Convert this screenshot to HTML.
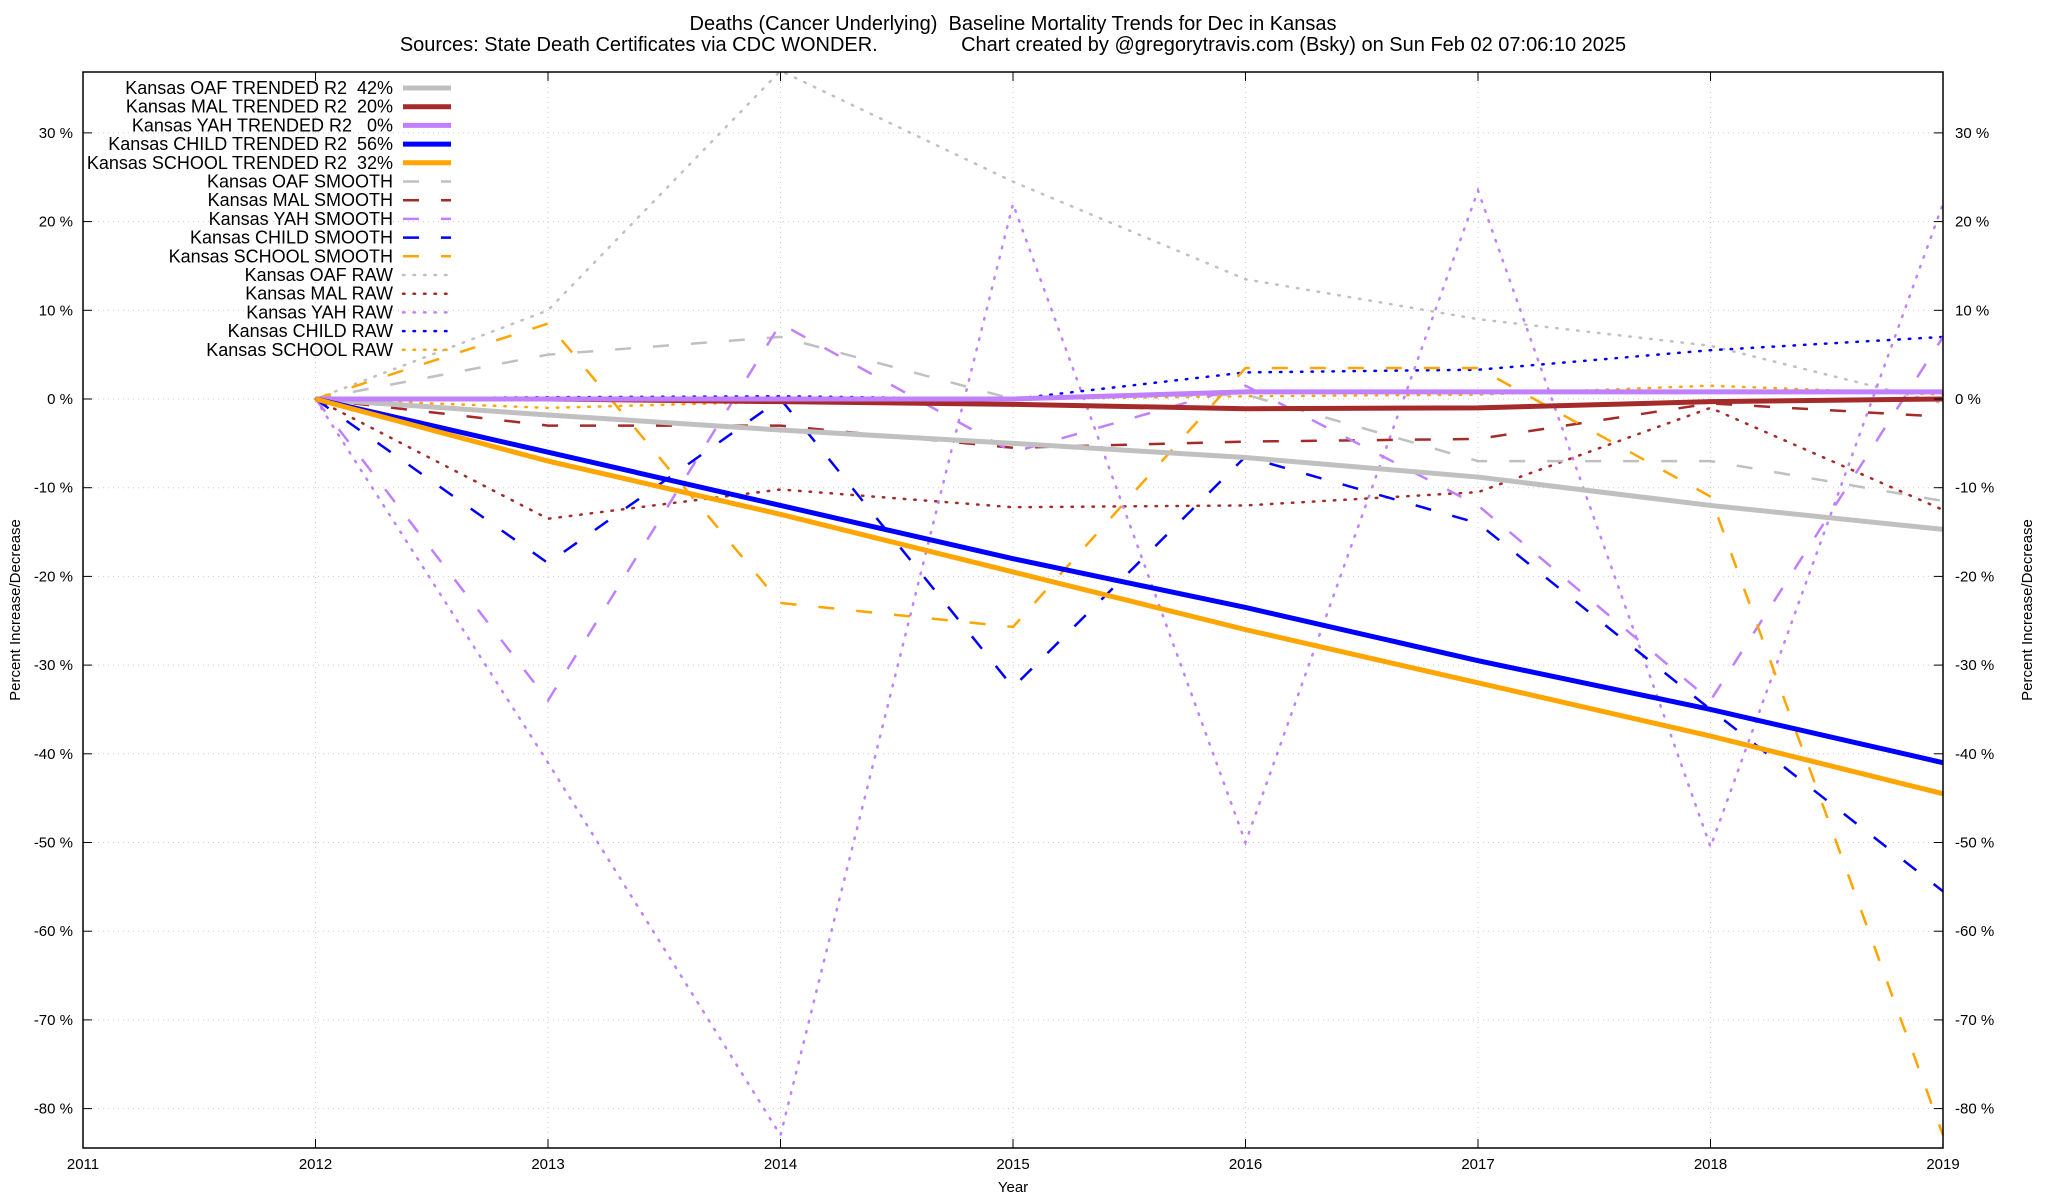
<!DOCTYPE html>
<html><head><meta charset="utf-8"><style>
body{margin:0;background:#fff;}
svg{display:block;font-family:"Liberation Sans",sans-serif;}
.pre{white-space:pre;}
</style></head><body>
<svg id="chart" width="2048" height="1200" viewBox="0 0 2048 1200" xmlns="http://www.w3.org/2000/svg">
<text class="pre" x="1013" y="30" font-size="20" text-anchor="middle">Deaths (Cancer Underlying)  Baseline Mortality Trends for Dec in Kansas</text>
<text class="pre" x="1013" y="51" font-size="20" text-anchor="middle">Sources: State Death Certificates via CDC WONDER.               Chart created by @gregorytravis.com (Bsky) on Sun Feb 02 07:06:10 2025</text>
<g id="grid"></g><g id="series"></g><g id="axes"></g><g id="legend"></g>
<text x="1013" y="1192" font-size="15" text-anchor="middle">Year</text>
<text transform="translate(20,610) rotate(-90)" font-size="15" text-anchor="middle">Percent Increase/Decrease</text>
<text transform="translate(2032,610) rotate(-90)" font-size="15" text-anchor="middle">Percent Increase/Decrease</text>
</svg>
<script>
const years=[2012,2013,2014,2015,2016,2017,2018,2019];
const xTicks=[2011,2012,2013,2014,2015,2016,2017,2018,2019];
const yTicks=[-80,-70,-60,-50,-40,-30,-20,-10,0,10,20,30];
const oafTrend=[0,-1.8,-3.5,-5.0,-6.6,-8.8,-12,-14.7];
const malTrend=[0,0,-0.3,-0.6,-1.1,-1.0,-0.3,0];
const yahTrend=[0,0,0,0,0.8,0.8,0.8,0.8];
const childTrend=[0,-6,-12,-18,-23.5,-29.5,-35,-41];
const schoolTrend=[0,-7,-13,-19.5,-26,-32,-38,-44.5];
const oafSmooth=[0,5,7,0,0.5,-7,-7,-11.5];
const malSmooth=[0,-3,-3,-5.5,-4.8,-4.5,-0.5,-2];
const yahSmooth=[0,-34,8.5,-6,1.5,-12,-34,7];
const childSmooth=[0,-18.5,0,-32.5,-6.5,-14,-35,-55.5];
const schoolSmooth=[0,8.5,-23,-25.7,3.5,3.5,-11,-83];
const oafRaw=[0,10,37,24.5,13.5,9,6,-0.5];
const malRaw=[0,-13.5,-10.2,-12.2,-12,-10.5,-1,-12.5];
const yahRaw=[0,-41,-83,22,-50,23.5,-50.5,22];
const childRaw=[0,0.2,0.3,0,3,3.3,5.5,7];
const schoolRaw=[0,-1,-0.3,0,0.3,0.5,1.5,0.5];

const L=83,R=1943,T=72,B=1148;
const xs=y=>L+(y-2011)*(R-L)/8;
const ys=v=>399-v*8.87;
const NS="http://www.w3.org/2000/svg";
function mk(tag,attrs,parent){const e=document.createElementNS(NS,tag);for(const k in attrs)e.setAttribute(k,attrs[k]);parent.appendChild(e);return e;}
const grid=document.getElementById('grid'),axes=document.getElementById('axes'),ser=document.getElementById('series'),leg=document.getElementById('legend');
yTicks.forEach(t=>{
 const g=mk('line',{x1:L,x2:R,y1:ys(t),y2:ys(t),stroke:'#ccc','stroke-dasharray':'1,4','stroke-width':1},grid);
 
 
 mk('line',{x1:L,x2:L+9,y1:ys(t),y2:ys(t),stroke:'#000'},axes);
 mk('line',{x1:R-9,x2:R,y1:ys(t),y2:ys(t),stroke:'#000'},axes);
 const a=mk('text',{x:L-10,y:ys(t)+5,'font-size':15,'text-anchor':'end'},axes);a.textContent=t+' %';
 
 
 const b=mk('text',{x:R+12,y:ys(t)+5,'font-size':15},axes);b.textContent=t+' %';
 
 
});
xTicks.forEach(t=>{
 const g=mk('line',{x1:xs(t),x2:xs(t),y1:T,y2:B,stroke:'#ccc','stroke-dasharray':'1,4'},grid);
 
 
 mk('line',{x1:xs(t),x2:xs(t),y1:B,y2:B-9,stroke:'#000'},axes);
 mk('line',{x1:xs(t),x2:xs(t),y1:T,y2:T+9,stroke:'#000'},axes);
 const a=mk('text',{x:xs(t),y:B+21,'font-size':15,'text-anchor':'middle'},axes);a.textContent=t;
 
 
});
const fr=mk('rect',{x:L,y:T,width:R-L,height:B-T,fill:'none',stroke:'#000','stroke-width':1.5},axes);


const C={oaf:'#c0c0c0',mal:'#a52a2a',yah:'#c080ff',child:'#0000ff',school:'#ffa500'};
const styles={trend:{w:5,d:''},smooth:{w:2.5,d:'16,22'},raw:{w:2.5,d:'1.5,9'}};
const seriesList=[
['Kansas OAF TRENDED R2  42%',oafTrend,C.oaf,'trend'],
['Kansas MAL TRENDED R2  20%',malTrend,C.mal,'trend'],
['Kansas YAH TRENDED R2   0%',yahTrend,C.yah,'trend'],
['Kansas CHILD TRENDED R2  56%',childTrend,C.child,'trend'],
['Kansas SCHOOL TRENDED R2  32%',schoolTrend,C.school,'trend'],
['Kansas OAF SMOOTH',oafSmooth,C.oaf,'smooth'],
['Kansas MAL SMOOTH',malSmooth,C.mal,'smooth'],
['Kansas YAH SMOOTH',yahSmooth,C.yah,'smooth'],
['Kansas CHILD SMOOTH',childSmooth,C.child,'smooth'],
['Kansas SCHOOL SMOOTH',schoolSmooth,C.school,'smooth'],
['Kansas OAF RAW',oafRaw,C.oaf,'raw'],
['Kansas MAL RAW',malRaw,C.mal,'raw'],
['Kansas YAH RAW',yahRaw,C.yah,'raw'],
['Kansas CHILD RAW',childRaw,C.child,'raw'],
['Kansas SCHOOL RAW',schoolRaw,C.school,'raw']];
const drawOrder=[10,11,12,13,14,5,6,7,8,9,0,1,2,3,4];
drawOrder.forEach(i=>{const [name,vals,col,k]=seriesList[i];const s=styles[k];
 const pts=vals.map((v,j)=>xs(years[j])+','+ys(v)).join(' ');
 const p=mk('polyline',{points:pts,fill:'none',stroke:col,'stroke-width':s.w,'stroke-dasharray':s.d,'stroke-linecap':k==='raw'?'round':'butt'},ser);
 
 
});
seriesList.forEach(([name,vals,col,k],i)=>{const s=styles[k];const y=88+i*18.7;
 const t=mk('text',{x:393,y:y+6,'font-size':18,'text-anchor':'end',class:'pre'},leg);t.textContent=name;
 
 
 mk('line',{x1:403,x2:451,y1:y,y2:y,stroke:col,'stroke-width':s.w,'stroke-dasharray':s.d,'stroke-linecap':k==='raw'?'round':'butt'},leg);
});
</script>
</body></html>
